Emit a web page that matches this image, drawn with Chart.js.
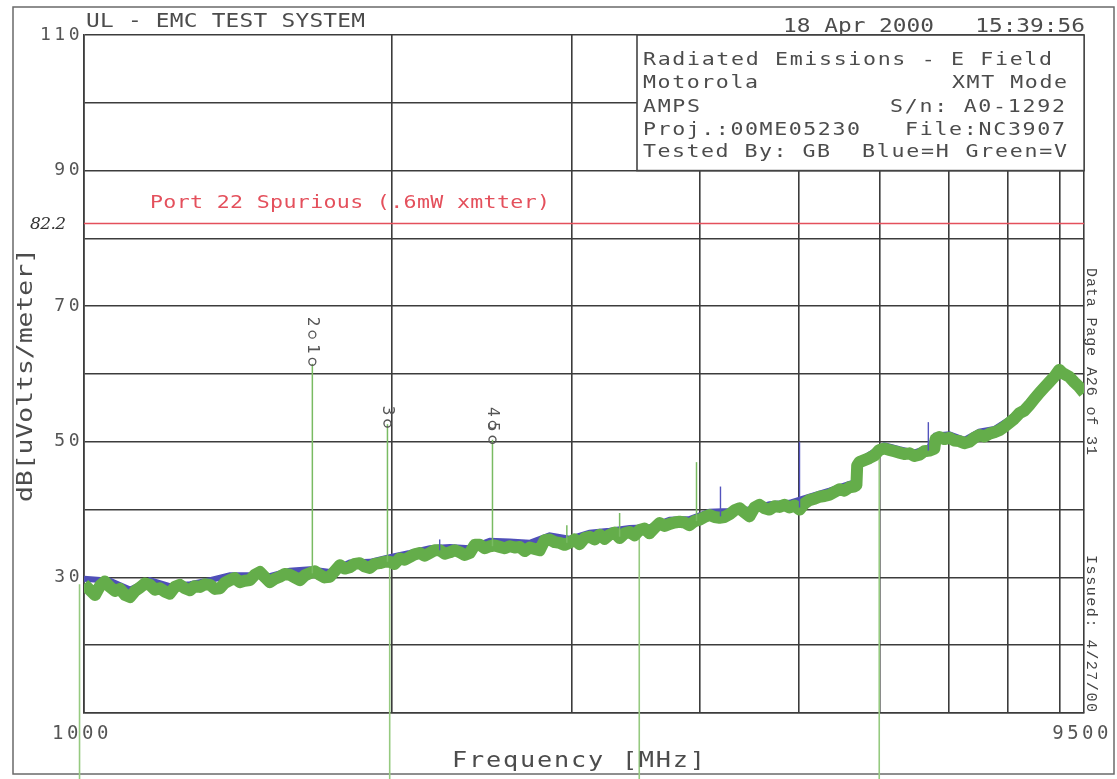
<!DOCTYPE html>
<html>
<head>
<meta charset="utf-8">
<script src="https://cdn.jsdelivr.net/npm/chart.js@4.4.0/dist/chart.umd.min.js"></script>
<style>
  html, body { margin: 0; padding: 0; background: #fff; }
</style>
</head>
<body>
<canvas id="emcChart" width="1117" height="779"></canvas>
<script>
// ---- axes ----
const gridFreqs = [1000, 2000, 3000, 4000, 5000, 6000, 7000, 8000, 9000, 9500];
const xTickLabels = { 1000: '1000', 9500: '9500' };
const yTickLabels = [110, 90, 70, 50, 30];

// ---- limit line ----
const limitFreqs = [1000, 9500];
const limitDb = [82.2, 82.2];

// ---- vertical trace (Green=V), MHz / dBuV/m ----
const greenFreqs = [1000, 1014, 1025, 1037, 1048, 1060, 1072, 1084, 1097, 1109, 1122, 1134, 1147, 1160, 1173, 1186,
  1200, 1213, 1227, 1241, 1255, 1269, 1283, 1298, 1313, 1328, 1343, 1358, 1373, 1389, 1404, 1420, 1436, 1453,
  1469, 1486, 1503, 1519, 1537, 1554, 1571, 1589, 1607, 1626, 1644, 1662, 1681, 1700, 1719, 1739, 1758, 1779,
  1798, 1819, 1840, 1860, 1881, 1903, 1924, 1946, 1968, 1990, 2012, 2035, 2058, 2082, 2105, 2129, 2153, 2178,
  2202, 2227, 2253, 2278, 2304, 2330, 2356, 2383, 2410, 2437, 2465, 2493, 2521, 2549, 2578, 2607, 2637, 2666,
  2697, 2727, 2758, 2789, 2821, 2852, 2885, 2917, 2950, 2983, 3017, 3051, 3086, 3121, 3157, 3192, 3228, 3265,
  3302, 3339, 3377, 3415, 3453, 3492, 3532, 3572, 3612, 3653, 3695, 3737, 3779, 3821, 3864, 3908, 3952, 3997,
  4042, 4088, 4134, 4181, 4228, 4276, 4324, 4373, 4422, 4473, 4523, 4575, 4627, 4679, 4732, 4785, 4839, 4894,
  4949, 5006, 5062, 5120, 5178, 5236, 5295, 5355, 5416, 5477, 5539, 5601, 5660, 5690, 5700, 5729, 5793, 5859,
  5925, 5992, 6060, 6129, 6198, 6268, 6339, 6411, 6483, 6556, 6630, 6705, 6781, 6800, 6858, 6936, 7014, 7093,
  7173, 7255, 7337, 7420, 7504, 7590, 7676, 7763, 7849, 7937, 8027, 8118, 8210, 8303, 8397, 8491, 8588, 8685,
  8783, 8882, 8983, 9040, 9085, 9187, 9290, 9396, 9500];
const greenDb = [29.0, 28.1, 27.4, 28.8, 29.4, 28.6, 28.0, 28.3, 27.4, 27.1, 28.0, 28.5, 29.1, 28.9, 28.2, 28.4,
  27.9, 27.6, 28.6, 28.9, 28.4, 28.1, 28.7, 28.6, 29.0, 28.9, 28.3, 28.4, 29.2, 29.6, 29.9, 29.3, 29.5, 29.6,
  30.4, 30.8, 30.0, 29.3, 29.8, 30.1, 30.5, 30.4, 30.0, 29.6, 30.3, 30.6, 30.9, 30.4, 30.0, 30.1, 30.9, 31.8,
  31.3, 31.5, 32.0, 32.1, 31.6, 31.4, 32.0, 32.1, 32.3, 32.3, 32.0, 32.8, 32.6, 33.0, 33.4, 33.6, 33.2, 33.6,
  34.0, 34.0, 33.5, 33.7, 34.0, 33.7, 33.3, 33.6, 34.8, 34.8, 34.3, 34.6, 34.7, 34.5, 34.3, 34.6, 34.4, 34.5,
  33.9, 34.4, 34.2, 34.0, 35.5, 35.6, 35.2, 35.1, 34.8, 35.1, 35.6, 34.9, 35.8, 36.0, 35.6, 36.3, 35.7, 36.3,
  36.6, 35.8, 36.5, 36.7, 36.2, 37.0, 37.2, 36.5, 37.3, 38.0, 37.6, 37.9, 38.1, 38.2, 38.1, 37.7, 38.3, 38.5,
  38.9, 39.2, 38.9, 38.8, 38.9, 39.3, 39.9, 40.2, 39.6, 39.0, 40.3, 40.7, 40.2, 40.0, 40.5, 40.4, 40.7, 40.3,
  40.6, 40.0, 40.9, 41.4, 41.6, 41.9, 42.0, 42.2, 42.6, 43.0, 42.8, 43.3, 43.4, 43.6, 46.5, 47.0, 47.3, 47.6,
  48.0, 48.8, 49.0, 48.8, 48.6, 48.4, 48.2, 48.3, 47.9, 48.1, 48.6, 48.7, 49.0, 50.4, 50.7, 50.4, 50.6, 50.2,
  50.1, 49.8, 50.0, 50.6, 51.0, 50.8, 51.2, 51.4, 51.7, 52.2, 52.8, 53.4, 54.2, 54.6, 55.4, 56.3, 57.2, 58.0,
  58.8, 59.6, 60.6, 60.2, 60.0, 59.6, 58.8, 58.1, 57.2];

// ---- horizontal trace (Blue=H) ----
const blueFreqs = [1000, 1060, 1109, 1160, 1213, 1270, 1328, 1389, 1453, 1519, 1589, 1662, 1739, 1819, 1903, 1990,
  2082, 2178, 2278, 2383, 2493, 2607, 2727, 2852, 2983, 3121, 3265, 3415, 3572, 3737, 3908, 4088, 4276, 4473,
  4679, 4894, 5120, 5355, 5601, 5690, 5700, 5859, 6060, 6268, 6483, 6705, 6800, 7014, 7255, 7504, 7763, 8027,
  8303, 8588, 8882, 9040, 9290, 9500];
const blueDb = [29.8, 29.5, 28.2, 29.6, 28.7, 29.0, 29.6, 30.3, 30.3, 30.2, 31.0, 31.2, 30.8, 32.2, 32.3, 33.0,
  33.6, 34.3, 34.5, 34.3, 35.4, 35.3, 35.1, 36.2, 35.7, 36.6, 36.9, 37.3, 37.4, 38.5, 38.6, 39.7, 39.8, 40.0,
  40.8, 41.0, 41.9, 42.8, 43.8, 44.1, 47.0, 48.1, 49.5, 48.9, 48.4, 49.2, 50.9, 51.1, 50.3, 51.5, 51.9, 53.3,
  55.1, 57.7, 60.0, 60.6, 59.2, 57.6];

// ---- narrow spikes ----
const greenSpikeFreqs = [1672, 1980, 2508, 2965, 3339, 3970];
const greenSpikeBase = [30.6, 32.3, 34.6, 35.1, 36.0, 38.3];
const greenSpikeTop = [61.5, 52.6, 50.3, 37.7, 39.5, 47.0];
const blueSpikeFreqs = [2227, 4190, 5006, 6690];
const blueSpikeBase = [34.0, 39.0, 40.3, 48.7];
const blueSpikeTop = [35.6, 43.4, 50.0, 52.9];

// ---- sub-band edges (green lines running off the bottom) ----
const edgeFreqs = [990, 1990, 3490, 5990];
const edgeTop = [29.0, 32.3, 36.8, 48.6];
const edgeBottom = [0, 0, 0, 0];

// ---- markers ----
const markerFreqs = [1672, 1672, 1980, 2508, 2508];
const markerDb = [61.8, 65.8, 52.7, 52.5, 50.3];
const markerNums = ['1', '2', '3', '4', '5'];

const MONO = '"DejaVu Sans Mono", monospace';
const INK = '#4c4c4c';
const STRETCH = 1.2;   // plotter glyphs are wider than DejaVu's

// draw text so it spans w pixels, glyphs stretched sideways a bit
function spaced(ctx, text, x, y, w, sx) {
  sx = sx || STRETCH;
  ctx.save();
  ctx.translate(x, y);
  ctx.scale(sx, 1);
  ctx.letterSpacing = '0px';
  const w0 = ctx.measureText(text).width;
  const ls = text.length > 1 ? (w / sx - w0) / (text.length - 1) : 0;
  ctx.letterSpacing = ls + 'px';
  ctx.fillText(text, 0, 0);
  ctx.restore();
}

function pts(fs, vs) {
  return fs.map((f, i) => ({ x: f, y: vs[i] }));
}

const datasets = [];
datasets.push({ data: pts(markerFreqs, markerDb), showLine: false, pointRadius: 3.5, pointBorderWidth: 1.3,
  pointBorderColor: '#555', pointBackgroundColor: 'rgba(0,0,0,0)', order: 0 });
greenSpikeFreqs.forEach((f, i) => datasets.push({
  data: [{ x: f, y: greenSpikeBase[i] }, { x: f, y: greenSpikeTop[i] }],
  borderColor: '#79bb62', borderWidth: 1.5, pointRadius: 0, order: 1 }));
blueSpikeFreqs.forEach((f, i) => datasets.push({
  data: [{ x: f, y: blueSpikeBase[i] }, { x: f, y: blueSpikeTop[i] }],
  borderColor: '#5353bd', borderWidth: 1.4, pointRadius: 0, order: 2 }));
datasets.push({ data: pts(greenFreqs, greenDb), borderColor: '#64ad4a', borderWidth: 12, pointRadius: 0,
  borderJoinStyle: 'round', order: 3 });
datasets.push({ data: pts(blueFreqs, blueDb), borderColor: '#4f4fb8', borderWidth: 6, pointRadius: 0, order: 4 });
edgeFreqs.forEach((f, i) => datasets.push({
  data: [{ x: f, y: edgeTop[i] }, { x: f, y: edgeBottom[i] }],
  borderColor: '#96ca80', borderWidth: 1.6, pointRadius: 0, clip: false, order: 5 }));
datasets.push({ data: pts(limitFreqs, limitDb), borderColor: '#e4505c', borderWidth: 1.6, pointRadius: 0, order: 6 });

const overlay = {
  id: 'overlay',
  beforeDraw(chart) {
    const ctx = chart.ctx;
    ctx.save();
    ctx.strokeStyle = '#6a6a6a';
    ctx.lineWidth = 1.5;
    ctx.strokeRect(13, 7, 1101, 767);
    ctx.restore();
    // plotter style wide spacing for the tick labels too
    ctx.letterSpacing = '3.5px';
  },
  afterDraw(chart) {
    const ctx = chart.ctx;
    const xs = chart.scales.x, ys = chart.scales.y;
    const area = chart.chartArea;
    ctx.save();
    ctx.fillStyle = INK;
    ctx.textAlign = 'left';
    ctx.textBaseline = 'alphabetic';

    // header
    ctx.font = '19px ' + MONO;
    spaced(ctx, 'UL - EMC TEST SYSTEM', 86, 27, 279);
    spaced(ctx, '18 Apr 2000   15:39:56', 783, 32, 302);

    // info box
    const boxL = 637, boxB = ys.getPixelForValue(90);
    ctx.fillStyle = '#fff';
    ctx.fillRect(boxL, area.top, area.right - boxL, boxB - area.top);
    ctx.strokeStyle = '#444';
    ctx.lineWidth = 1.6;
    ctx.strokeRect(boxL, area.top, area.right - boxL, boxB - area.top);
    ctx.fillStyle = INK;
    ctx.font = '18px ' + MONO;
    spaced(ctx, 'Radiated Emissions - E Field', 643, 65, 409);
    spaced(ctx, 'Motorola', 643, 88, 115);
    spaced(ctx, 'XMT Mode', 952, 88, 115);
    spaced(ctx, 'AMPS', 643, 112, 57);
    spaced(ctx, 'S/n: A0-1292', 890, 112, 175);
    spaced(ctx, 'Proj.:00ME05230', 643, 135, 217);
    spaced(ctx, 'File:NC3907', 905, 135, 160);
    spaced(ctx, 'Tested By: GB', 643, 157, 187);
    spaced(ctx, 'Blue=H Green=V', 862, 157, 205);

    // limit label
    ctx.fillStyle = '#e4505c';
    ctx.font = '18px ' + MONO;
    spaced(ctx, 'Port 22 Spurious (.6mW xmtter)', 150, 208, 400);

    // hand-written limit value
    ctx.fillStyle = '#333';
    ctx.font = 'italic 17px "DejaVu Serif", serif';
    spaced(ctx, '82.2', 30, 229, 36, 1);

    // axis titles
    ctx.fillStyle = INK;
    ctx.font = '21px ' + MONO;
    spaced(ctx, 'Frequency [MHz]', 452, 767, 253);
    ctx.save();
    ctx.translate(32, 502);
    ctx.rotate(-Math.PI / 2);
    ctx.font = '22px ' + MONO;
    spaced(ctx, 'dB[uVolts/meter]', 0, 0, 254);
    ctx.restore();

    // side notes
    ctx.font = '15px "Liberation Mono", monospace';
    ctx.fillStyle = '#444';
    ctx.save();
    ctx.translate(1087, 268);
    ctx.rotate(Math.PI / 2);
    spaced(ctx, 'Data Page A26 of 31', 0, 0, 187, 1);
    ctx.restore();
    ctx.save();
    ctx.translate(1087, 555);
    ctx.rotate(Math.PI / 2);
    spaced(ctx, 'Issued: 4/27/00', 0, 0, 157, 1);
    ctx.restore();

    // marker numbers
    ctx.font = '16px ' + MONO;
    ctx.letterSpacing = '0px';
    ctx.fillStyle = '#555';
    ctx.textAlign = 'center';
    ctx.textBaseline = 'middle';
    markerFreqs.forEach((f, i) => {
      const px = xs.getPixelForValue(f), py = ys.getPixelForValue(markerDb[i]);
      ctx.save();
      ctx.translate(px, py - 13);
      ctx.rotate(Math.PI / 2);
      ctx.fillText(markerNums[i], 0, 0);
      ctx.restore();
    });

    ctx.restore();
    ctx.letterSpacing = '0px';
  }
};

new Chart(document.getElementById('emcChart').getContext('2d'), {
  type: 'line',
  data: { datasets: datasets },
  plugins: [overlay],
  options: {
    responsive: false,
    animation: false,
    events: [],
    layout: { padding: { left: 0, top: 35, right: 32, bottom: 0 }, autoPadding: false },
    plugins: { legend: { display: false }, tooltip: { enabled: false } },
    elements: { line: { tension: 0 } },
    scales: {
      x: {
        type: 'logarithmic',
        min: 1000,
        max: 9500,
        afterFit: (s) => { s.height = 66; },
        afterBuildTicks: (axis) => { axis.ticks = gridFreqs.map(v => ({ value: v })); },
        grid: { color: '#3c3c3c', lineWidth: 1.6, drawTicks: false },
        border: { color: '#3c3c3c', width: 1.6 },
        ticks: {
          autoSkip: false, maxRotation: 0, padding: 10, labelOffset: -2, color: '#555',
          font: { family: 'DejaVu Sans Mono', size: 19 },
          callback: (v) => xTickLabels[v] || ''
        }
      },
      y: {
        type: 'linear',
        min: 10,
        max: 110,
        afterFit: (s) => { s.width = 84; },
        grid: { color: '#3c3c3c', lineWidth: 1.6, drawTicks: false },
        border: { color: '#3c3c3c', width: 1.6 },
        ticks: {
          stepSize: 10, padding: 1, color: '#555',
          font: { family: 'DejaVu Sans Mono', size: 18 },
          callback: (v) => yTickLabels.includes(v) ? String(v) : ''
        }
      }
    }
  }
});
</script>
</body>
</html>
